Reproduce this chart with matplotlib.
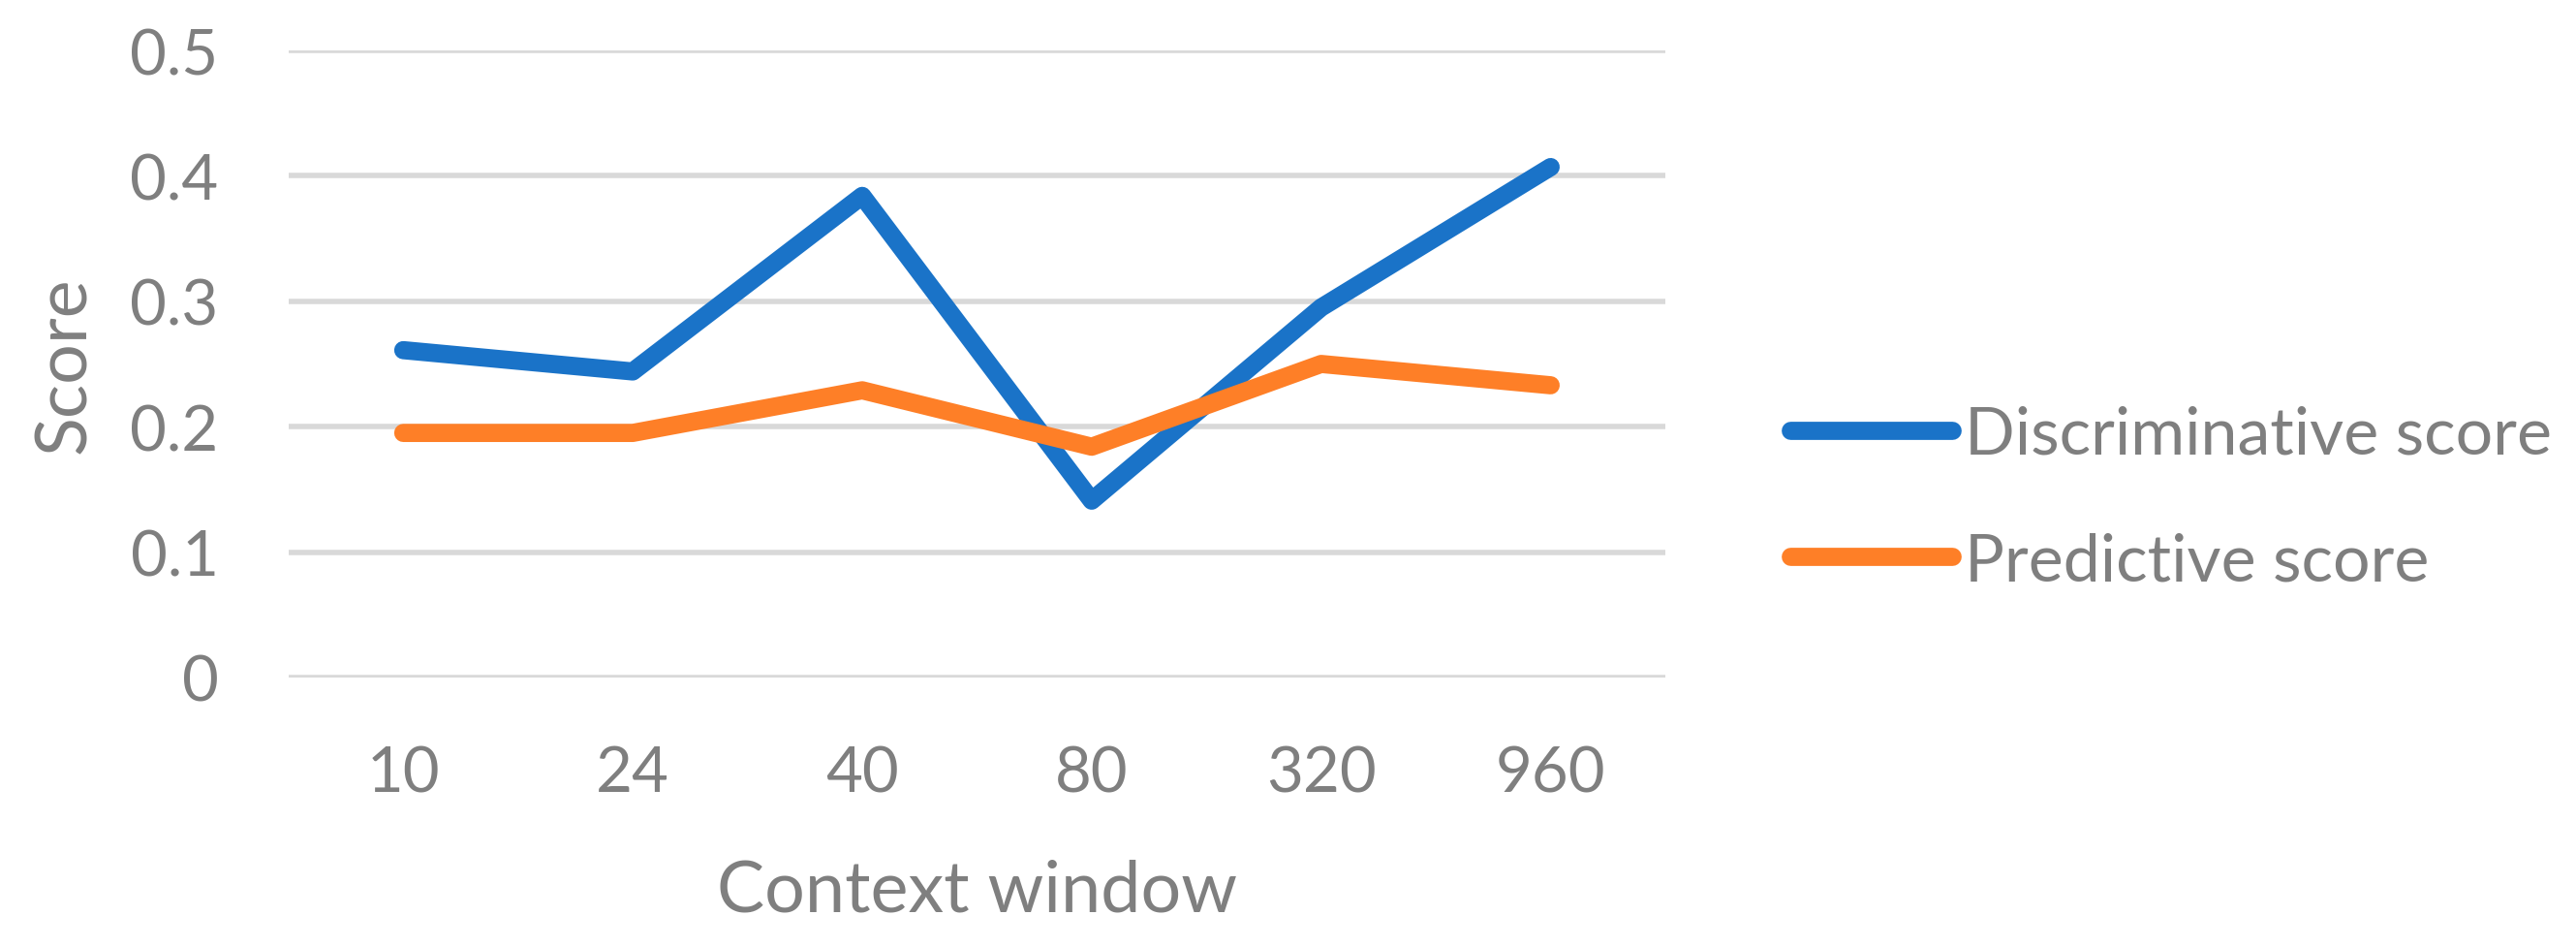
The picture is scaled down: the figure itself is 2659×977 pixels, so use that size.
"""Score vs context window line chart."""

import matplotlib
matplotlib.use("Agg")
import matplotlib.pyplot as plt
from matplotlib.lines import Line2D

# data
context_windows = ["10", "24", "40", "80", "320", "960"]
discriminative = [0.261, 0.244, 0.384, 0.141, 0.295, 0.407]
predictive = [0.195, 0.195, 0.229, 0.184, 0.250, 0.233]
y_ticks = [0, 0.1, 0.2, 0.3, 0.4, 0.5]
y_tick_labels = ["0", "0.1", "0.2", "0.3", "0.4", "0.5"]

TEXT = "#7f7f7f"
BLUE = "#1a73c8"
ORANGE = "#fe7f27"
GRID = "#d9d9d9"
LW = 13.5

plt.rcParams["font.family"] = ["Lato", "DejaVu Sans"]

fig = plt.figure(figsize=(26.59, 9.78), dpi=100)
ax = fig.add_axes([0.112, 0.2843, 0.5345, 0.6615])

x = range(len(context_windows))
ax.plot(x, discriminative, color=BLUE, lw=LW, solid_capstyle="round",
        solid_joinstyle="round", label="Discriminative score", zorder=3)
ax.plot(x, predictive, color=ORANGE, lw=LW, solid_capstyle="round",
        solid_joinstyle="round", label="Predictive score", zorder=3)

ax.set_xlim(-0.5, len(context_windows) - 0.5)
ax.set_ylim(0, 0.5)
ax.set_yticks(y_ticks)
ax.set_yticklabels(y_tick_labels)
ax.set_xticks(list(x))
ax.set_xticklabels(context_windows)
ax.tick_params(length=0, labelsize=47, labelcolor=TEXT)
ax.tick_params(axis="y", pad=52)
ax.tick_params(axis="x", pad=50)

ax.grid(axis="y", color=GRID, lw=4)
ax.set_axisbelow(True)
for s in ax.spines.values():
    s.set_visible(False)

ax.set_xlabel("Context window", fontsize=53, color=TEXT, labelpad=42)
ax.set_ylabel("Score", fontsize=53, color=TEXT, labelpad=24)

handles = [Line2D([], [], color=BLUE, lw=LW, solid_capstyle="round"),
           Line2D([], [], color=ORANGE, lw=LW, solid_capstyle="round")]
leg = fig.legend(handles, ["Discriminative score", "Predictive score"],
                 loc="center left", bbox_to_anchor=(0.672, 0.4734),
                 frameon=False, fontsize=49, labelcolor=TEXT,
                 handlelength=2.45, handletextpad=0.2, labelspacing=1.0)

fig.savefig("out.png", dpi=100)
